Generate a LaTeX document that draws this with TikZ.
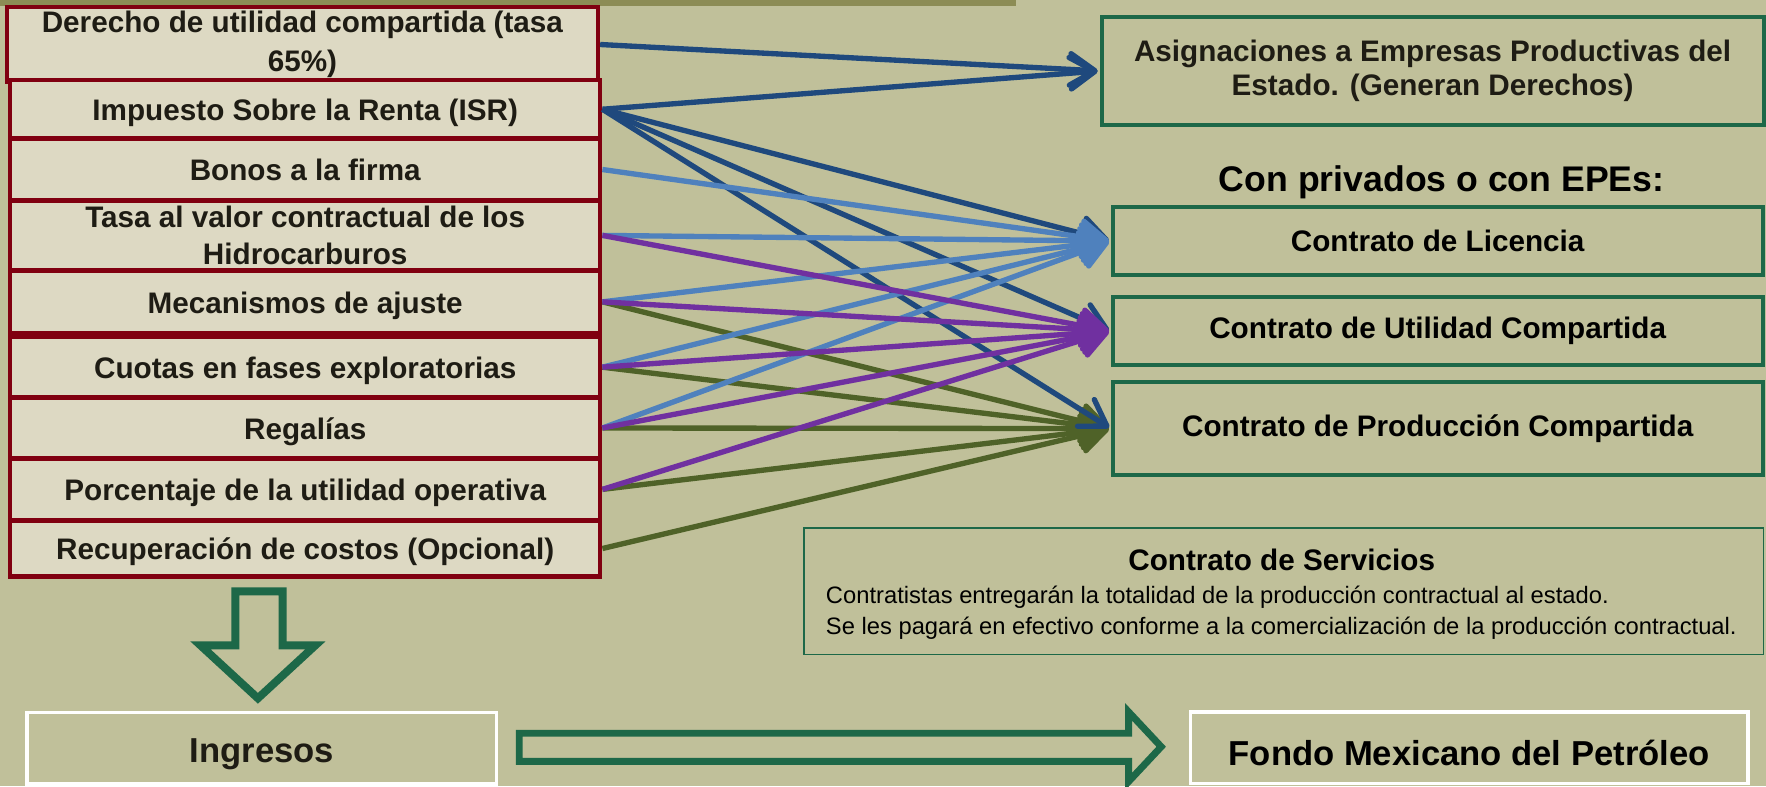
\documentclass[tikz,border=0pt]{standalone}
\usepackage{fontspec}
\setmainfont{Liberation Sans}
\usepackage{tikz}
\usetikzlibrary{arrows.meta}

\definecolor{fondo}{RGB}{192,192,154}
\definecolor{banda}{RGB}{140,140,85}
\definecolor{beige}{RGB}{221,217,195}
\definecolor{rojo}{RGB}{128,0,16}
\definecolor{verde}{RGB}{29,104,72}
\definecolor{tinta}{RGB}{30,28,20}
\definecolor{azulosc}{RGB}{31,73,125}
\definecolor{azulcl}{RGB}{79,129,189}
\definecolor{morado}{RGB}{112,48,160}
\definecolor{oliva}{RGB}{79,98,40}

\begin{document}
\begin{tikzpicture}[
        x = 0.02cm, y = -0.02cm, % one unit per pixel, y downwards
        > = {Straight Barb[length=4.4mm, width=5.6mm, round]}, % arrow head style
        shorten > = 1pt, % don't touch arrow head to node
        line width = 2.7pt % connector width
    ]

    \tikzstyle{rubro}=[
        draw = rojo,
        line width = 2.2pt,
        fill = beige,
        text = tinta,
        minimum width = 10.48cm,
        inner sep = 0pt,
        align = center,
        text height = 14.5pt,
        text depth = 3.2pt,
        font = \bfseries\fontsize{15}{18.5}\selectfont
    ]

    \tikzstyle{contrato}=[
        draw = verde,
        line width = 2pt,
        minimum width = 11.54cm,
        inner sep = 0pt,
        align = center,
        font = \bfseries\fontsize{15}{17.5}\selectfont
    ]

    \tikzstyle{destino}=[
        draw = white,
        line width = 1.8pt,
        minimum height = 1.27cm,
        inner sep = 0pt,
        text height = 18pt,
        font = \bfseries\fontsize{17.5}{20}\selectfont
    ]

    \tikzstyle{bloque}=[
        draw = verde,
        fill = fondo,
        line join = miter
    ]

    % background
    \useasboundingbox (0,0) rectangle (1568,698);
    \fill[fondo] (0,0) rectangle (1568,698);
    \fill[banda] (0,0) rectangle (902,5);

    % ingresos
    \node[rubro, text height=, text depth=, minimum width=10.5cm, minimum height=1.34cm] (der) at (268.5,39.5) {Derecho de utilidad compartida (tasa\\[1pt]65\%)};
    \node[rubro, minimum height=1.04cm] (isr) at (271,97) {Impuesto Sobre la Renta (ISR)};
    \node[rubro, minimum height=1.1cm] (bon) at (271,150.5) {Bonos a la firma};
    \node[rubro, text height=, text depth=, minimum height=1.24cm] (tasa) at (271,209) {Tasa al valor contractual de los\\Hidrocarburos};
    \node[rubro, minimum height=1.12cm] (mec) at (271,268) {Mecanismos de ajuste};
    \node[rubro, minimum height=1.08cm] (cuo) at (271,326) {Cuotas en fases exploratorias};
    \node[rubro, minimum height=1.08cm] (reg) at (271,380) {Regalías};
    \node[rubro, minimum height=1.1cm] (por) at (271,434.5) {Porcentaje de la utilidad operativa};
    \node[rubro, minimum height=1.0cm] (rec) at (271,487) {Recuperación de costos (Opcional)};

    % contratos
    \node[contrato, text=tinta, minimum width=11.76cm, minimum height=1.92cm] (asig) at (1272,63) {Asignaciones a Empresas Productivas del\\Estado. (Generan Derechos)};
    \node[font=\bfseries\fontsize{18}{21}\selectfont] (priv) at (1280,162) {Con privados o con EPEs:};
    \node[contrato, minimum height=1.2cm] (lic) at (1276.5,214) {Contrato de Licencia};
    \node[contrato, minimum height=1.2cm] (util) at (1276.5,294) {Contrato de Utilidad Compartida};
    \node[contrato, minimum height=1.66cm] (prod) at (1276.5,380.5) {Contrato de Producción Compartida};

    \node[draw=verde, line width=0.8pt, minimum width=17.04cm, minimum height=2.24cm] (serv) at (1140,525) {};
    \node[font=\bfseries\fontsize{15}{18}\selectfont] (servtit) at (1138,497) {Contrato de Servicios};
    \node[anchor=west, align=left, inner sep=0pt, font=\fontsize{12}{16}\selectfont] (servtxt) at (731,544) {Contratistas entregarán la totalidad de la producción contractual al estado.\\Se les pagará en efectivo conforme a la comercialización de la producción contractual.};

    \node[destino, text=tinta, minimum width=8.34cm] (ing) at (232.5,664.5) {Ingresos};
    \node[destino, minimum width=9.9cm] (fmp) at (1304.5,664) {Fondo Mexicano del Petróleo};

    % block arrows
    \draw[bloque, line width=4pt] (209,525) -- (251,525) -- (251,573) -- (280,573) -- (229,620) -- (178,573) -- (209,573) -- cycle;
    \draw[bloque, line width=3.5pt] (461,651) -- (1002,651) -- (1002,632) -- (1031,663) -- (1002,694) -- (1002,676) -- (461,676) -- cycle;

    \path[->, oliva] (mec.east) edge (prod.west);
    \path[->, oliva] (cuo.east) edge (prod.west);
    \path[->, oliva] (reg.east) edge (prod.west);
    \path[->, oliva] (por.east) edge (prod.west);
    \path[->, oliva] (rec.east) edge (prod.west);

    \path[->, azulosc] (der.east) edge (asig.west);
    \path[->, azulosc] (isr.east) edge (asig.west);
    \path[->, azulosc] (isr.east) edge (lic.west);
    \path[->, azulosc] (isr.east) edge (util.west);
    \path[->, azulosc] (isr.east) edge (prod.west);

    \path[->, azulcl] (bon.east) edge (lic.west);
    \path[->, azulcl] (tasa.east) edge (lic.west);
    \path[->, azulcl] (mec.east) edge (lic.west);
    \path[->, azulcl] (cuo.east) edge (lic.west);
    \path[->, azulcl] (reg.east) edge (lic.west);

    \path[->, morado] (tasa.east) edge (util.west);
    \path[->, morado] (mec.east) edge (util.west);
    \path[->, morado] (cuo.east) edge (util.west);
    \path[->, morado] (reg.east) edge (util.west);
    \path[->, morado] (por.east) edge (util.west);

\end{tikzpicture}
\end{document}
